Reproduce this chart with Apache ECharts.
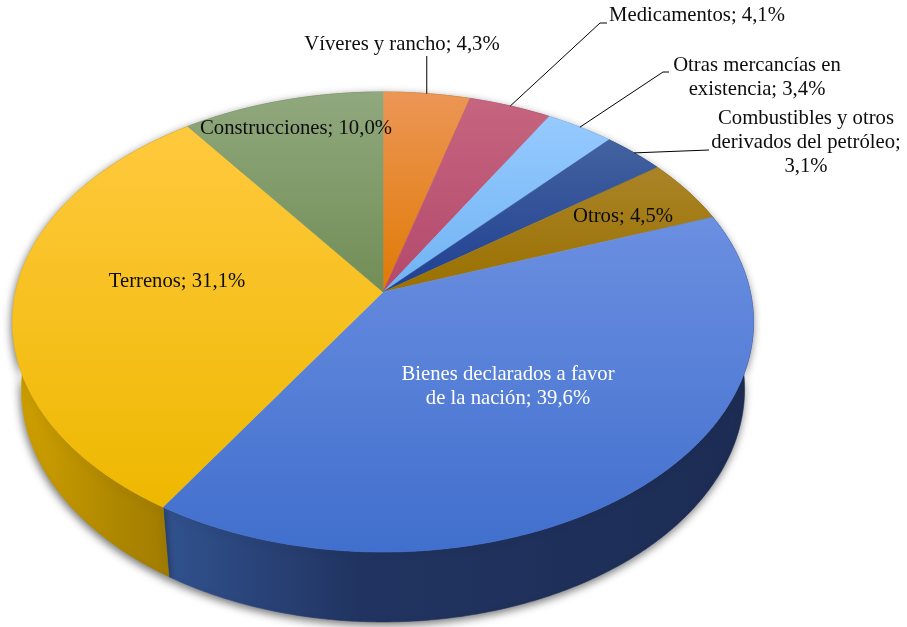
<!DOCTYPE html>
<html><head><meta charset="utf-8">
<script src="https://cdn.jsdelivr.net/npm/echarts@6/dist/echarts.min.js"></script>
<style>html,body{margin:0;padding:0;background:#fff}#c{width:907px;height:627px}</style>
</head><body><div id="c"></div>
<script>
// ---- data ----
const categories = ['Víveres y rancho', 'Medicamentos', 'Otras mercancías en existencia',
  'Combustibles y otros derivados del petróleo', 'Otros',
  'Bienes declarados a favor de la nación', 'Terrenos', 'Construcciones'];
const values = [4.3, 4.1, 3.4, 3.1, 4.5, 39.6, 31.1, 10.0];

// ---- styles / layout (not data) ----
const topColors = [
  ['#ec9656', '#e07a04'], ['#c6657f', '#b3496c'], ['#96caff', '#6fb3f3'], ['#43629f', '#1f3f92'],
  ['#aa8428', '#9a7000'], ['#6b8fe1', '#416fcd'], ['#ffc93e', '#eeb800'], ['#90a87d', '#728d56']
];
const wallStops = [
  [['#b86000', 0], ['#9a5000', 1]], [['#8e3a55', 0], ['#7a2e48', 1]], [['#5a8fc0', 0], ['#4a7ab0', 1]],
  [['#1d3470', 0], ['#162a5c', 1]], [['#806000', 0], ['#6a5000', 1]],
  [['#31528f', 0], ['#213461', 0.33], ['#1c2c54', 1]],
  [['#d2a200', 0], ['#ad8600', 0.6], ['#9c7800', 1]], [['#5e7544', 0], ['#4e6538', 1]]
];
// label centre, leader polyline points (null x = anchor x), word-wrap counts, colour
const labelLayout = [
  { x: 402, y: 45, line: [[null, 56]] },
  { x: 697, y: 16, line: [[600, 23], [607, 23]] },
  { x: 757, y: 78, line: [[663, 72], [669, 72]], wrap: [3] },
  { x: 806, y: 143, line: [[709, 150]], wrap: [3, 3] },
  { x: 623, y: 217 },
  { x: 508, y: 387, wrap: [4], color: '#ffffff' },
  { x: 177, y: 282 },
  { x: 296, y: 129 }
];
const FONT = '20.7px "Liberation Serif", "Times New Roman", serif';

// ---- perspective projection of a tilted disc ----
const P = { cx: 383, cy: 292, f: 2218.6, D: 6.04, sa: 0.6155, ca: 0.788, h: 0.2377 };
function proj(theta, r, depth) {
  const u = r * Math.sin(theta), v = r * Math.cos(theta);
  const X = u, Y = v * P.sa - depth * P.ca, Z = -v * P.ca - depth * P.sa;
  const w = P.D - Z;
  return [P.cx + P.f * X / w, P.cy - P.f * Y / w];
}
const total = values.reduce((a, b) => a + b, 0);
function sliceAngles(i) {
  let s = 0;
  for (let k = 0; k < i; k++) s += values[k];
  return [s / total * 2 * Math.PI, (s + values[i]) / total * 2 * Math.PI];
}
function arc(a0, a1, depth) {
  const n = Math.max(2, Math.ceil((a1 - a0) / (Math.PI / 360)));
  const pts = [];
  for (let k = 0; k <= n; k++) pts.push(proj(a0 + (a1 - a0) * k / n, 1, depth));
  return pts;
}
function fmt(v) { return v.toFixed(1).replace('.', ',') + '%'; }
function wrapWords(text, counts) {
  if (!counts) return text;
  const words = text.split(' ');
  const lines = []; let idx = 0;
  counts.forEach(c => { lines.push(words.slice(idx, idx + c).join(' ')); idx += c; });
  if (idx < words.length) lines.push(words.slice(idx).join(' '));
  return lines.join('\n');
}

const chart = echarts.init(document.getElementById('c'), null, { renderer: 'canvas' });
const data = values.map((v, i) => [i, v]);

chart.setOption({
  animation: false,
  series: [
    {
      type: 'custom', coordinateSystem: 'none', silent: true, z: 1, data: data,
      renderItem: function (params, api) {
        const i = api.value(0);
        const [a0, a1] = sliceAngles(i);
        const top = arc(a0, a1, 0);
        const bot = arc(a0, a1, P.h).reverse();
        const stops = wallStops[i].map(s => ({ offset: s[1], color: s[0] }));
        const grad = { type: 'linear', x: 0, y: 0, x2: 1, y2: 0, colorStops: stops };
        return {
          type: 'polygon', shape: { points: top.concat(bot) },
          style: { fill: grad, stroke: grad, lineWidth: 0.6,
            shadowBlur: 9, shadowColor: 'rgba(0,0,0,0.55)', shadowOffsetX: -1, shadowOffsetY: 3 }
        };
      }
    },
    {
      type: 'custom', coordinateSystem: 'none', silent: true, z: 2, data: data,
      renderItem: function (params, api) {
        const i = api.value(0);
        const [a0, a1] = sliceAngles(i);
        const pts = [proj(0, 0, 0)].concat(arc(a0, a1, 0));
        const grad = { type: 'linear', x: 0, y: 0, x2: 0, y2: 1,
          colorStops: [{ offset: 0, color: topColors[i][0] }, { offset: 1, color: topColors[i][1] }] };
        return {
          type: 'polygon', shape: { points: pts },
          style: { fill: grad, stroke: grad, lineWidth: 0.6, lineJoin: 'round' }
        };
      }
    },
    {
      type: 'custom', coordinateSystem: 'none', silent: true, z: 3, data: data,
      renderItem: function (params, api) {
        const i = api.value(0);
        const L = labelLayout[i];
        const [a0, a1] = sliceAngles(i);
        const children = [];
        if (L.line) {
          const anchor = proj((a0 + a1) / 2, 1, 0);
          const pts = [anchor].concat(L.line.map(p => [p[0] === null ? anchor[0] : p[0], p[1]]));
          children.push({ type: 'polyline', shape: { points: pts },
            style: { stroke: '#000', lineWidth: 1, fill: null } });
        }
        children.push({ type: 'text', style: {
          text: wrapWords(categories[i] + '; ' + fmt(api.value(1)), L.wrap),
          x: L.x, y: L.y, align: 'center', verticalAlign: 'middle', lineHeight: 24,
          font: FONT, fill: L.color || '#0d0d0d' } });
        return { type: 'group', children: children };
      }
    }
  ]
});
</script>
</body></html>
